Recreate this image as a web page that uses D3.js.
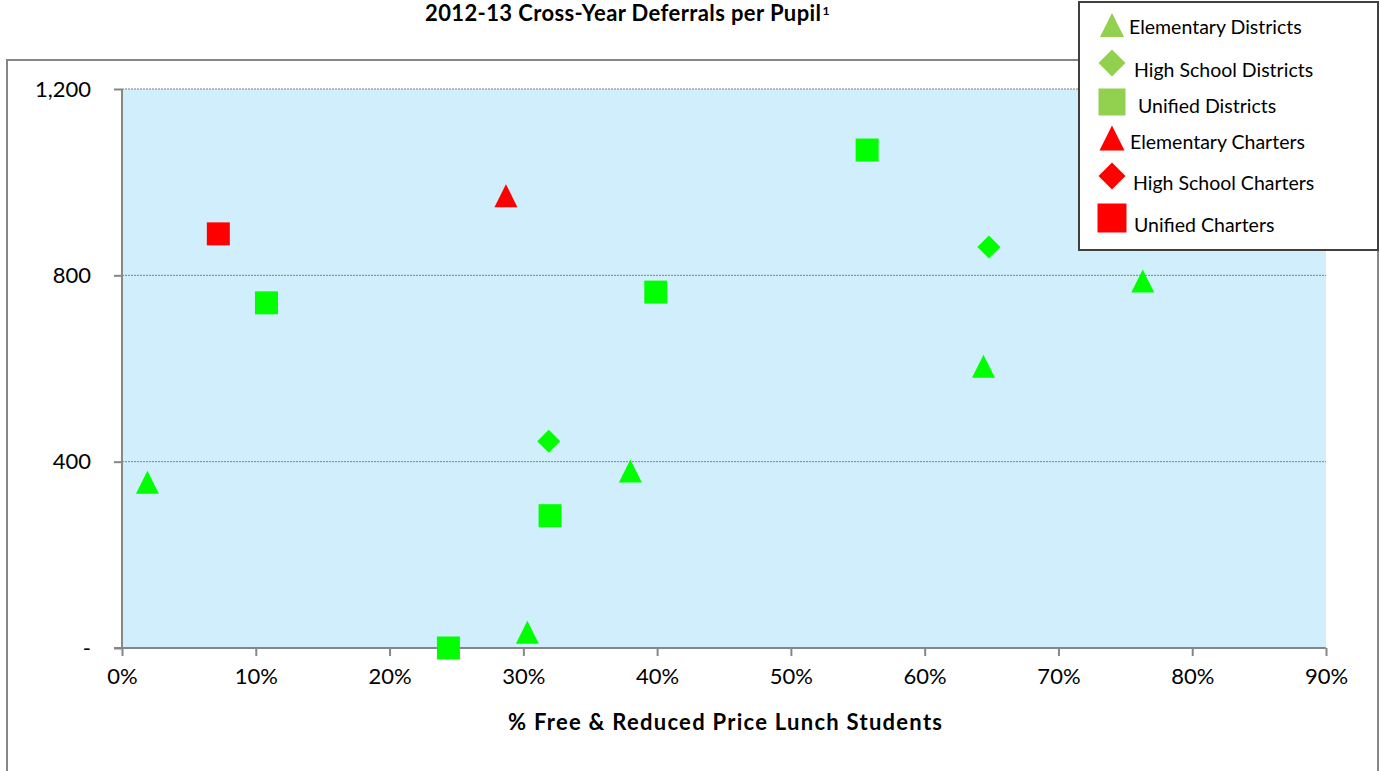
<!DOCTYPE html>
<html>
<head>
<meta charset="utf-8">
<script src="https://cdn.jsdelivr.net/npm/d3@7.9.0/dist/d3.min.js"></script>
<style>
  body { margin: 0; background: #fff; }
  svg { display: block; font-family: Lato, "Open Sans", sans-serif; }
</style>
</head>
<body>
<svg id="chart" width="1380" height="771"></svg>
<script>
// === Data ===
const elemDistrictsX = [1.9, 30.3, 38.0, 64.4, 76.3];
const elemDistrictsY = [356, 34, 380, 605, 788];
const hsDistrictsX = [31.9, 64.8];
const hsDistrictsY = [444, 861];
const unifiedDistrictsX = [10.8, 24.4, 32.0, 39.9, 55.7];
const unifiedDistrictsY = [741, 0, 284, 764, 1069];
const elemChartersX = [28.7];
const elemChartersY = [971];
const hsChartersX = [];
const hsChartersY = [];
const unifiedChartersX = [7.2];
const unifiedChartersY = [889];

const xTicks = [0, 10, 20, 30, 40, 50, 60, 70, 80, 90];
const yTicks = [0, 400, 800, 1200];

// Excel-style marker shapes, centred on their bounding box
const triangle = {
  draw(ctx, size) {
    const r = Math.sqrt(size) / 2;
    ctx.moveTo(0, -r);
    ctx.lineTo(r, r);
    ctx.lineTo(-r, r);
    ctx.closePath();
  }
};
const diamond = {
  draw(ctx, size) {
    const r = Math.sqrt(size) / 2;
    ctx.moveTo(0, -r);
    ctx.lineTo(r, 0);
    ctx.lineTo(0, r);
    ctx.lineTo(-r, 0);
    ctx.closePath();
  }
};

const series = [
  { name: 'Elementary Districts', xs: elemDistrictsX, ys: elemDistrictsY, shape: triangle, color: '#00FF00', legendColor: '#92D050' },
  { name: 'High School Districts', xs: hsDistrictsX, ys: hsDistrictsY, shape: diamond, color: '#00FF00', legendColor: '#92D050' },
  { name: 'Unified Districts', xs: unifiedDistrictsX, ys: unifiedDistrictsY, shape: d3.symbolSquare, color: '#00FF00', legendColor: '#92D050' },
  { name: 'Elementary Charters', xs: elemChartersX, ys: elemChartersY, shape: triangle, color: '#FF0000', legendColor: '#FF0000' },
  { name: 'High School Charters', xs: hsChartersX, ys: hsChartersY, shape: diamond, color: '#FF0000', legendColor: '#FF0000' },
  { name: 'Unified Charters', xs: unifiedChartersX, ys: unifiedChartersY, shape: d3.symbolSquare, color: '#FF0000', legendColor: '#FF0000' }
];

const svg = d3.select('#chart');
const plot = { left: 122, right: 1326, top: 89, bottom: 648 };

const x = d3.scaleLinear().domain([0, 90]).range([plot.left, plot.right]);
const y = d3.scaleLinear().domain([0, 1200]).range([plot.bottom, plot.top]);

// outer chart border (right/bottom run off the picture)
svg.append('rect')
  .attr('x', 7).attr('y', 60)
  .attr('width', 1371).attr('height', 740)
  .attr('fill', '#fff')
  .attr('stroke', '#868686')
  .attr('stroke-width', 2);

// plot area
svg.append('rect')
  .attr('x', plot.left).attr('y', plot.top)
  .attr('width', plot.right - plot.left)
  .attr('height', plot.bottom - plot.top)
  .attr('fill', '#D1EEFD');

// gridlines
svg.append('g')
  .selectAll('line')
  .data(yTicks.filter(d => d > 0))
  .join('line')
  .attr('x1', plot.left).attr('x2', plot.right)
  .attr('y1', d => y(d)).attr('y2', d => y(d))
  .attr('stroke', '#808080')
  .attr('stroke-width', 1)
  .attr('stroke-dasharray', '2,1');

// === Axes ===
const xAxis = d3.axisBottom(x)
  .tickValues(xTicks)
  .tickSize(8)
  .tickPadding(12)
  .tickFormat(d => d + '%');

const yAxis = d3.axisLeft(y)
  .tickValues(yTicks)
  .tickSize(8)
  .tickPadding(23)
  .tickFormat(d => d === 0 ? '-' : d3.format(',')(d));

const gx = svg.append('g')
  .attr('transform', `translate(0,${plot.bottom})`)
  .call(xAxis);
const gy = svg.append('g')
  .attr('transform', `translate(${plot.left},0)`)
  .call(yAxis);

[gx, gy].forEach(g => {
  g.select('.domain').attr('stroke', '#868686').attr('stroke-width', 2);
  g.selectAll('.tick line').attr('stroke', '#868686').attr('stroke-width', 2);
  g.selectAll('.tick text')
    .attr('fill', '#000')
    .attr('font-size', 22)
    .attr('font-family', 'Lato, sans-serif');
});
gx.select('.domain').attr('d', `M${plot.left - 8},0H${plot.right}`);
gy.select('.domain').attr('d', `M0,${plot.top}V${plot.bottom}`);

// === Points ===
const sym = d3.symbol().size(529);
series.forEach(s => {
  svg.append('g')
    .selectAll('path')
    .data(s.xs.map((v, i) => ({ x: v, y: s.ys[i] })))
    .join('path')
    .attr('transform', d => `translate(${x(d.x)},${y(d.y)})`)
    .attr('d', sym.type(s.shape)())
    .attr('fill', s.color);
});

// === Titles ===
const title = svg.append('text')
  .attr('x', 425).attr('y', 21)
  .attr('font-size', 22)
  .attr('font-weight', 'bold');
title.append('tspan')
  .attr('textLength', 396)
  .attr('lengthAdjust', 'spacing')
  .text('2012-13 Cross-Year Deferrals per Pupil');
title.append('tspan')
  .attr('font-size', 12)
  .attr('dy', -6)
  .attr('dx', 1)
  .text('1');

svg.append('text')
  .attr('x', 508).attr('y', 730)
  .attr('font-size', 22)
  .attr('font-weight', 'bold')
  .attr('textLength', 434)
  .attr('lengthAdjust', 'spacing')
  .text('% Free & Reduced Price Lunch Students');

// === Legend ===
const legend = svg.append('g');
legend.append('rect')
  .attr('x', 1079).attr('y', 2)
  .attr('width', 299).attr('height', 248)
  .attr('fill', '#fff')
  .attr('stroke', '#404040')
  .attr('stroke-width', 2);

const legendMarkY = [25, 63, 102, 138, 176, 218];
const legendTextX = [1129, 1134, 1138, 1130, 1133, 1134];
const legendTextY = [34, 77, 113, 149, 190, 232];
const legendSize = [576, 729, 729, 625, 729, 841];

series.forEach((s, i) => {
  legend.append('path')
    .attr('transform', `translate(${1112},${legendMarkY[i]})`)
    .attr('d', d3.symbol().type(s.shape).size(legendSize[i])())
    .attr('fill', s.legendColor);
  legend.append('text')
    .attr('x', legendTextX[i]).attr('y', legendTextY[i])
    .attr('font-size', 19.5)
    .attr('fill', '#000')
    .text(s.name);
});
</script>
</body>
</html>
